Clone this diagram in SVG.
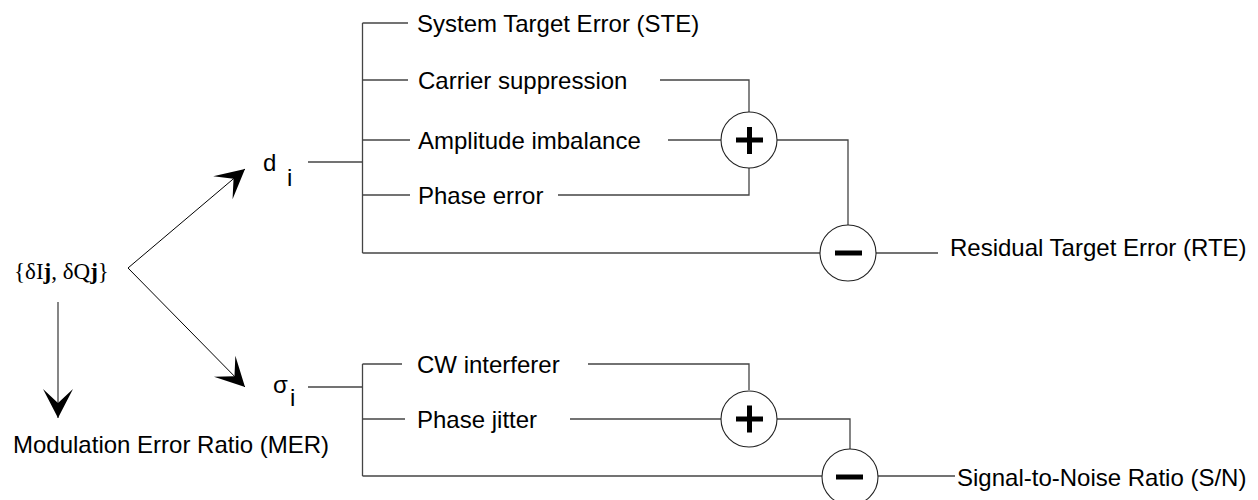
<svg xmlns="http://www.w3.org/2000/svg" width="1258" height="500" viewBox="0 0 1258 500">
<style>
.t{font-family:"Liberation Sans",Arial,sans-serif;font-size:24px;fill:#000}
.s{font-family:"Liberation Serif","Times New Roman",serif;font-size:23px;fill:#000}
.w{fill:none;stroke:#444;stroke-width:1.3}
.a{fill:none;stroke:#000;stroke-width:1}
.c{fill:#fff;stroke:#222;stroke-width:1.1}
.op{stroke:#000;stroke-width:5;fill:none}
</style>
<defs>
<marker id="ah" viewBox="-30 -16 31 32" refX="0" refY="0" markerWidth="31" markerHeight="32" markerUnits="userSpaceOnUse" orient="auto">
<path d="M0,0 L-29,-15 L-15,0 L-29,15 Z" fill="#000"/>
</marker>
</defs>
<g id="connectors">
<line class="a" x1="128" y1="268" x2="245" y2="169" marker-end="url(#ah)"/>
<line class="a" x1="128" y1="268" x2="245" y2="387" marker-end="url(#ah)"/>
<line class="w" x1="58" y1="302" x2="58" y2="418" marker-end="url(#ah)"/>
<line class="w" x1="308" y1="162" x2="362.5" y2="162"/>
<line class="w" x1="362.5" y1="23" x2="362.5" y2="253"/>
<line class="w" x1="362.5" y1="23" x2="408" y2="23"/>
<line class="w" x1="362.5" y1="80" x2="408" y2="80"/>
<line class="w" x1="362.5" y1="140" x2="410" y2="140"/>
<line class="w" x1="362.5" y1="195" x2="410" y2="195"/>
<polyline class="w" points="660,80 749,80 749,112"/>
<line class="w" x1="668" y1="140" x2="721" y2="140"/>
<polyline class="w" points="558,195 749,195 749,168"/>
<polyline class="w" points="777,140 848,140 848,225"/>
<line class="w" x1="362.5" y1="253" x2="820" y2="253"/>
<line class="w" x1="876" y1="253" x2="938" y2="253"/>
<line class="w" x1="308" y1="387" x2="362.5" y2="387"/>
<line class="w" x1="362.5" y1="364" x2="362.5" y2="476"/>
<line class="w" x1="362.5" y1="364" x2="402" y2="364"/>
<line class="w" x1="362.5" y1="419" x2="405" y2="419"/>
<polyline class="w" points="588,364 749,364 749,390"/>
<line class="w" x1="570" y1="419" x2="721" y2="419"/>
<polyline class="w" points="777,419 850,419 850,449"/>
<line class="w" x1="362.5" y1="476" x2="822" y2="476"/>
<line class="w" x1="878" y1="476" x2="955" y2="476"/>
</g>
<g id="source"><text class="s" x="14" y="279">{δI<tspan font-weight="bold">j</tspan>, δQ<tspan font-weight="bold">j</tspan>}</text></g>
<g id="di"><text class="t" x="263" y="171">d</text><text class="t" x="287" y="186" font-size="20">i</text></g>
<g id="sigmai"><text class="t" x="273" y="393">σ</text><text class="t" x="290" y="406" font-size="22">i</text></g>
<g id="mer"><text class="t" x="13" y="453">Modulation Error Ratio (MER)</text></g>
<g id="ste"><text class="t" x="417" y="32">System Target Error (STE)</text></g>
<g id="carrier"><text class="t" x="418" y="88.5">Carrier suppression</text></g>
<g id="amplitude"><text class="t" x="418" y="148.5">Amplitude imbalance</text></g>
<g id="phaseerr"><text class="t" x="418" y="203.5">Phase error</text></g>
<g id="plus1"><circle class="c" cx="749" cy="140" r="28"/><path class="op" d="M736,140 H763 M749.5,127 V154"/></g>
<g id="minus1"><circle class="c" cx="848" cy="253" r="28"/><path class="op" d="M835,253 H862"/></g>
<g id="rte"><text class="t" x="950" y="256">Residual Target Error (RTE)</text></g>
<g id="cw"><text class="t" x="417" y="373">CW interferer</text></g>
<g id="jitter"><text class="t" x="417" y="428">Phase jitter</text></g>
<g id="plus2"><circle class="c" cx="749" cy="419" r="28"/><path class="op" d="M736,419 H763 M749.5,405.5 V432.5"/></g>
<g id="minus2"><circle class="c" cx="850" cy="477" r="28"/><path class="op" d="M836,477 H863"/></g>
<g id="sn"><text class="t" x="957" y="486">Signal-to-Noise Ratio (S/N)</text></g>
</svg>
